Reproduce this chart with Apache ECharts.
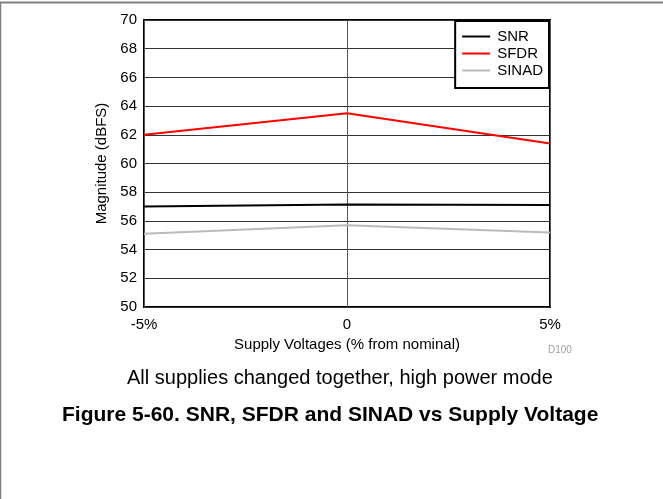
<!DOCTYPE html>
<html>
<head>
<meta charset="utf-8">
<script src="https://cdn.jsdelivr.net/npm/echarts@6/dist/echarts.min.js"></script>
<style>
  html, body { margin: 0; padding: 0; background: #fff; }
  #chart { width: 663px; height: 499px; }
</style>
</head>
<body>
<div id="chart"></div>
<script>
// Supply deviation from nominal (%)
const supplyPct = [-5, 0, 5];
const snr   = [57.0, 57.15, 57.1];
const sfdr  = [62.0, 63.5, 61.4];
const sinad = [55.1, 55.7, 55.2];

const xTickLabels = { '-5': '-5%', '0': '0', '5': '5%' };

const FONT = '"Liberation Sans", Arial, sans-serif';

const pairs = (ys) => supplyPct.map((x, i) => [x, ys[i]]);

const chart = echarts.init(document.getElementById('chart'));
chart.setOption({
  animation: false,
  backgroundColor: '#fff',
  textStyle: { fontFamily: FONT },
  grid: {
    left: 144, top: 20, right: 113, bottom: 192,
    show: true, borderColor: '#000', borderWidth: 2, backgroundColor: 'transparent'
  },
  legend: {
    right: 114, top: 21,
    orient: 'vertical',
    itemWidth: 28, itemHeight: 2, itemGap: 2,
    backgroundColor: '#fff',
    borderColor: '#000', borderWidth: 2,
    padding: [8, 6, 10, 7],
    borderRadius: 0,
    textStyle: { fontFamily: FONT, fontSize: 15, color: '#000', padding: [0, 0, 0, 2] },
    icon: 'rect',
    data: ['SNR', 'SFDR', 'SINAD']
  },
  xAxis: {
    type: 'value', min: -5, max: 5, interval: 5,
    name: 'Supply Voltages (% from nominal)',
    nameLocation: 'middle', nameGap: 28,
    nameTextStyle: { fontFamily: FONT, fontSize: 15, color: '#000' },
    axisLine: { show: false },
    axisTick: { show: false },
    axisLabel: {
      fontFamily: FONT, fontSize: 15, color: '#000', margin: 10,
      formatter: (v) => xTickLabels[String(v)]
    },
    splitLine: { show: true, lineStyle: { color: '#555', width: 1 } }
  },
  yAxis: {
    type: 'value', min: 50, max: 70, interval: 2,
    name: 'Magnitude (dBFS)',
    nameLocation: 'middle', nameGap: 35,
    nameTextStyle: { fontFamily: FONT, fontSize: 15, color: '#000' },
    axisLine: { show: false },
    axisTick: { show: false },
    axisLabel: { fontFamily: FONT, fontSize: 15, color: '#000', margin: 7 },
    splitLine: { show: true, lineStyle: { color: '#333', width: 1 } }
  },
  series: [
    { name: 'SNR', type: 'line', data: pairs(snr), symbol: 'none', z: 3,
      lineStyle: { color: '#000', width: 2 }, itemStyle: { color: '#000' } },
    { name: 'SFDR', type: 'line', data: pairs(sfdr), symbol: 'none', z: 3,
      lineStyle: { color: '#ff0000', width: 2 }, itemStyle: { color: '#ff0000' } },
    { name: 'SINAD', type: 'line', data: pairs(sinad), symbol: 'none', z: 2,
      lineStyle: { color: '#bbbbbb', width: 2 }, itemStyle: { color: '#bbbbbb' } }
  ],
  graphic: [
    { type: 'line', shape: { x1: 0, y1: 2.5, x2: 663, y2: 2.5 },
      style: { stroke: '#808080', lineWidth: 2 }, silent: true },
    { type: 'line', shape: { x1: 0.5, y1: 2, x2: 0.5, y2: 499 },
      style: { stroke: '#808080', lineWidth: 1.5 }, silent: true },
    { type: 'text', left: 548, top: 345,
      style: { text: 'D100', fill: '#a0a0a0', font: '10px ' + FONT } },
    { type: 'text', left: 127, top: 368,
      style: { text: 'All supplies changed together, high power mode', fill: '#000', font: '20px ' + FONT } },
    { type: 'text', left: 62, top: 405,
      style: { text: 'Figure 5-60. SNR, SFDR and SINAD vs Supply Voltage', fill: '#000', font: 'bold 21px ' + FONT } }
  ]
});
</script>
</body>
</html>
